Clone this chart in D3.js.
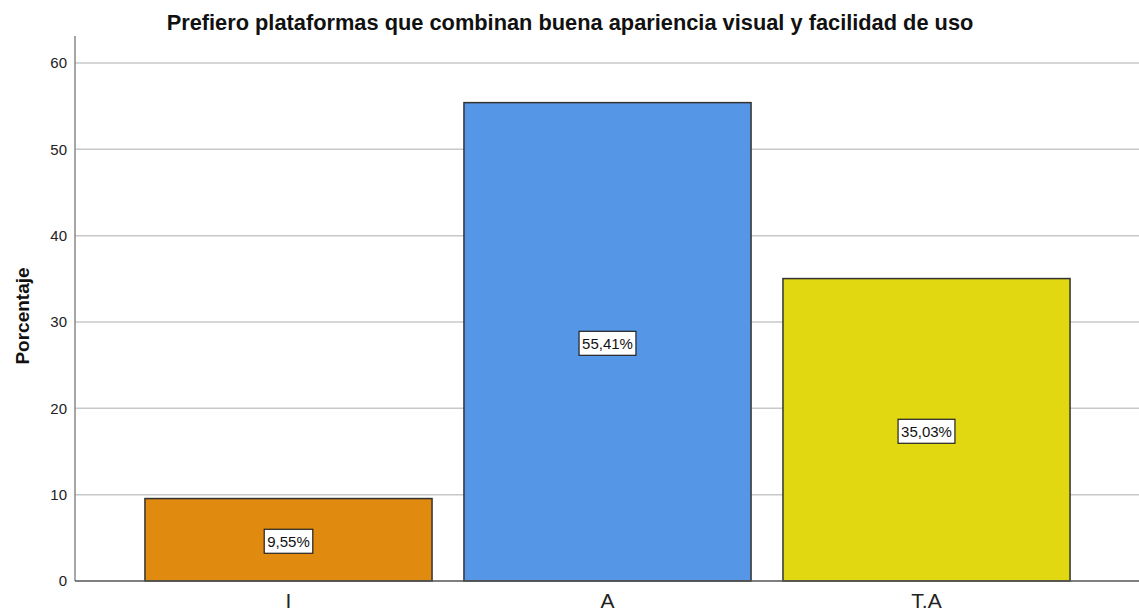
<!DOCTYPE html>
<html><head><meta charset="utf-8">
<script src="https://cdn.jsdelivr.net/npm/d3@7"></script>
<style>body{margin:0;background:#fff}svg{display:block}text{font-family:"Liberation Sans",Arial,sans-serif}</style>
</head><body>
<script>
const categories = ["I", "A", "T.A"];
const values = [9.55, 55.41, 35.03];
const valueLabels = ["9,55%", "55,41%", "35,03%"];
const colors = ["#E08A10", "#5596E6", "#E1D812"];
const yTicks = [0, 10, 20, 30, 40, 50, 60];

const W = 1139, H = 614;
const svg = d3.select("body").append("svg").attr("width", W).attr("height", H);
const x = d3.scaleBand().domain(categories).range([129, 1086]).paddingInner(0.1).paddingOuter(0.05);
const y = d3.scaleLinear().domain([0, 60]).range([581, 63]);
const plotLeft = 75, plotRight = 1139, plotTop = 36;

// gridlines
svg.append("g").selectAll("line").data(yTicks.filter(d => d > 0)).join("line")
  .attr("x1", plotLeft).attr("x2", plotRight)
  .attr("y1", d => y(d)).attr("y2", d => y(d))
  .attr("stroke", "#c8c8c8").attr("stroke-width", 1.5);

// y axis
const yAxis = svg.append("g").attr("transform", `translate(${plotLeft},0)`)
  .call(d3.axisLeft(y).tickValues(yTicks).tickSize(0).tickPadding(8));
yAxis.select(".domain").remove();
yAxis.selectAll("text").attr("font-size", 15).attr("fill", "#222");
svg.append("line").attr("x1", plotLeft).attr("x2", plotLeft).attr("y1", plotTop).attr("y2", y(0))
  .attr("stroke", "#888").attr("stroke-width", 1.5);

// bars
svg.append("g").selectAll("rect").data(values).join("rect")
  .attr("x", (d, i) => x(categories[i]))
  .attr("width", x.bandwidth())
  .attr("y", d => y(d))
  .attr("height", d => y(0) - y(d))
  .attr("fill", (d, i) => colors[i])
  .attr("stroke", "#333").attr("stroke-width", 1.5);

// x axis line
svg.append("line").attr("x1", plotLeft).attr("x2", plotRight).attr("y1", y(0)).attr("y2", y(0))
  .attr("stroke", "#555").attr("stroke-width", 1.5);

// x axis labels
const xAxis = svg.append("g").attr("transform", `translate(0,${y(0)})`)
  .call(d3.axisBottom(x).tickSize(0).tickPadding(12));
xAxis.select(".domain").remove();
xAxis.selectAll("text").attr("font-size", 21).attr("fill", "#222");

// value labels
const lg = svg.append("g").selectAll("g").data(values).join("g")
  .attr("transform", (d, i) => `translate(${x(categories[i]) + x.bandwidth() / 2},${(y(d) + y(0)) / 2 + 1.5})`);
lg.append("text").attr("class", "vl").text((d, i) => valueLabels[i])
  .attr("text-anchor", "middle").attr("dy", "0.36em").attr("font-size", 15).attr("fill", "#111");
lg.each(function() {
  const g = d3.select(this);
  const bb = g.select("text").node().getBBox();
  g.insert("rect", "text").attr("x", bb.x - 3).attr("y", -12).attr("width", bb.width + 6).attr("height", 24)
    .attr("fill", "#fff").attr("stroke", "#222").attr("stroke-width", 1.2);
});

// title
svg.append("text").attr("x", 570).attr("y", 30).attr("text-anchor", "middle")
  .attr("font-size", 21.8).attr("font-weight", "bold").attr("fill", "#111")
  .text("Prefiero plataformas que combinan buena apariencia visual y facilidad de uso");

// y label
svg.append("text").attr("transform", "translate(29,316) rotate(-90)").attr("text-anchor", "middle")
  .attr("font-size", 19).attr("font-weight", "bold").attr("fill", "#111").text("Porcentaje");
</script>
</body></html>
